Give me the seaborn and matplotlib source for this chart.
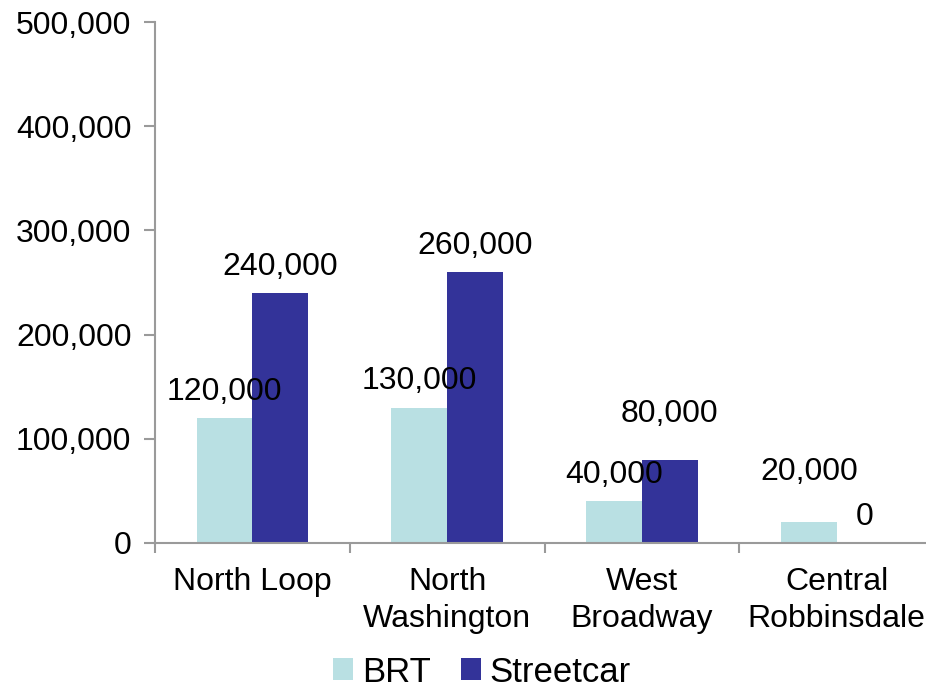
import matplotlib
matplotlib.use("Agg")
import matplotlib.pyplot as plt
from matplotlib.ticker import FuncFormatter, FixedLocator
from matplotlib.patches import Patch
import seaborn as sns
import pandas as pd

areas = ["North Loop", "North\nWashington", "West\nBroadway", "Central\nRobbinsdale"]
brt = [120000, 130000, 40000, 20000]
streetcar = [240000, 260000, 80000, 0]
modes = ["BRT", "Streetcar"]
colors = ["#b9e0e3", "#333399"]

# extra lift (points) for labels nudged clear of neighbouring text
brt_lift = [0, 0, 0, 17]
streetcar_lift = [0, 0, 14, 0]

df = pd.DataFrame({
    "area": areas * 2,
    "mode": ["BRT"] * len(areas) + ["Streetcar"] * len(areas),
    "riders": brt + streetcar,
})

sns.set_theme(style="white")
plt.rcParams["font.family"] = ["Liberation Sans", "DejaVu Sans"]
plt.rcParams["text.color"] = "black"
plt.rcParams["xtick.color"] = "black"
plt.rcParams["ytick.color"] = "black"

FS = 23

fig = plt.figure(figsize=(9.26, 6.94), dpi=100)
ax = fig.add_axes([155 / 926, 1 - 543 / 694, 779 / 926, 521 / 694])

sns.barplot(data=df, x="area", y="riders", hue="mode", order=areas,
            hue_order=modes, palette=colors, width=0.572, gap=0,
            saturation=1, linewidth=0, ax=ax, legend=False)

for cont, lifts in zip(ax.containers, [brt_lift, streetcar_lift]):
    for bar, v, lift in zip(cont, cont.datavalues, lifts):
        ax.annotate(f"{v:,.0f}", (bar.get_x() + bar.get_width() / 2, v),
                    xytext=(0, 8 + lift), textcoords="offset points",
                    ha="center", va="bottom", fontsize=FS, color="black")

ax.set_ylim(0, 500000)
ax.set_xlim(-0.5, 3.5)
ax.yaxis.set_major_locator(FixedLocator(range(0, 500001, 100000)))
ax.yaxis.set_major_formatter(FuncFormatter(lambda v, p: f"{v:,.0f}"))
ax.set_xlabel("")
ax.set_ylabel("")

spine_c = "#9a9a9a"
for s in ["top", "right"]:
    ax.spines[s].set_visible(False)
for s in ["left", "bottom"]:
    ax.spines[s].set_color(spine_c)
    ax.spines[s].set_linewidth(1.5)

ax.tick_params(axis="y", which="major", direction="out", length=8, width=1.5,
               color=spine_c, labelsize=FS, labelcolor="black", pad=9, left=True)
ax.set_xticks([i - 0.5 for i in range(len(areas) + 1)], minor=True)
ax.tick_params(axis="x", which="minor", direction="out", length=7, width=1.5,
               color=spine_c, bottom=True)
ax.tick_params(axis="x", which="major", length=0, labelsize=FS,
               labelcolor="black", pad=17)
for t in ax.get_xticklabels():
    t.set_linespacing(1.3)

handles = [Patch(facecolor=c, edgecolor="none") for c in colors]
fig.legend(handles, modes, loc="center", bbox_to_anchor=(482 / 926, 1 - 672 / 694),
           ncol=2, frameon=False, fontsize=25, handlelength=0.58,
           handleheight=0.58, handletextpad=0.26, columnspacing=0.85,
           borderpad=0, borderaxespad=0)

fig.savefig("out.png", dpi=100)
